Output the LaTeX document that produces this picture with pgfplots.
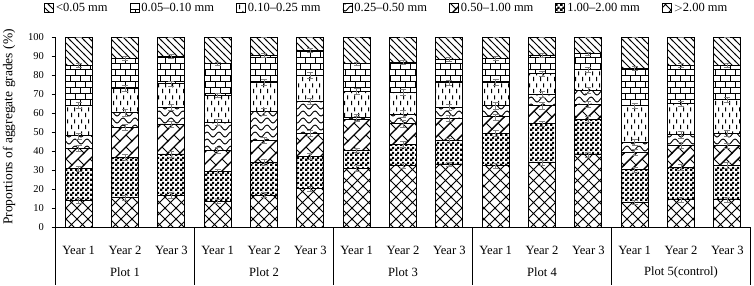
\documentclass[border=0pt]{standalone}
\usepackage{fontspec}
\setmainfont{Liberation Serif}
\usepackage{pgfplots}
\pgfplotsset{compat=1.18}
\usetikzlibrary{patterns,patterns.meta}

\tikzdeclarepattern{name=pNW, tile size={(7pt,7pt)}, bottom left={(-1pt,-1pt)}, top right={(8pt,8pt)},
  code={\draw[line width=0.9pt] (-1pt,8pt) -- (8pt,-1pt);}}
\tikzdeclarepattern{name=pBricks, tile size={(10pt,12pt)}, bottom left={(-1pt,-1pt)}, top right={(11pt,13pt)},
  code={\draw[line width=1pt] (-1pt,0pt) -- (11pt,0pt) (-1pt,6pt) -- (11pt,6pt) (0pt,0pt) -- (0pt,6pt) (5pt,6pt) -- (5pt,12pt);}}
\tikzdeclarepattern{name=pDash, tile size={(7pt,12pt)}, bottom left={(0pt,0pt)}, top right={(7pt,12pt)},
  code={\draw[line width=1.1pt] (1.75pt,1pt) -- (1.75pt,5.5pt) (5.25pt,7pt) -- (5.25pt,11.5pt);}}
\tikzdeclarepattern{name=pWave, tile size={(12pt,7pt)}, bottom left={(-1pt,-1pt)}, top right={(13pt,8pt)},
  code={\draw[line width=0.9pt] (0pt,3.5pt) sin (3pt,6pt) cos (6pt,3.5pt) sin (9pt,1pt) cos (12pt,3.5pt);}}
\tikzdeclarepattern{name=pDiagBricks, tile size={(12pt,12pt)}, bottom left={(-1pt,-1pt)}, top right={(13pt,13pt)},
  code={\draw[line width=1.4pt] (-1pt,-1pt) -- (13pt,13pt); \draw[line width=0.8pt] (6pt,6pt) -- (12pt,0pt);}}
\tikzdeclarepattern{name=pChecker, tile size={(5pt,5pt)}, bottom left={(0pt,0pt)}, top right={(5pt,5pt)},
  code={\fill (0pt,0pt) rectangle (2.9pt,2.9pt) (2.5pt,2.5pt) rectangle (5pt,5pt);}}
\tikzdeclarepattern{name=pCross, tile size={(11pt,11pt)}, bottom left={(-1pt,-1pt)}, top right={(12pt,12pt)},
  code={\draw[line width=0.8pt] (-1pt,-1pt) -- (12pt,12pt) (-1pt,12pt) -- (12pt,-1pt);}}

\begin{document}
\begin{tikzpicture}
\path[use as bounding box] (0,0) rectangle (754pt,285pt);
\begin{axis}[
  at={(55.5pt,57.5pt)}, anchor=south west,
  scale only axis, width=695pt, height=190pt,
  xmin=-0.5, xmax=14.5, ymin=0, ymax=100,
  ybar stacked, bar width=27pt,
  clip=false,
  axis x line*=bottom, axis y line*=left,
  axis line style={line width=0.8pt},
  ytick={0,10,...,100}, xtick={0,...,14},
  xticklabels={Year 1,Year 2,Year 3,Year 1,Year 2,Year 3,Year 1,Year 2,Year 3,Year 1,Year 2,Year 3,Year 1,Year 2,Year 3},
  tick align=outside, major tick length=4pt,
  x tick style={draw=none},
  y tick style={black, line width=0.8pt},
  yticklabel style={font=\fontsize{10.5}{12}\selectfont, xshift=-4pt},
  xticklabel style={font=\fontsize{12.6}{14}\selectfont, anchor=center, yshift=-19pt},
  /pgf/number format/assume math mode=true,
  legend columns=7, reverse legend,
  legend style={at={(-0.018,1.197)}, anchor=north west, draw=none, inner sep=1pt,
    font=\fontsize{12.5}{14}\selectfont,
    /tikz/every even column/.append style={column sep=20pt}},
  legend image code/.code={\draw[#1] (0pt,-4.5pt) rectangle (9pt,4.5pt);},
  every axis plot/.append style={draw=black, line width=0.9pt},
  error bars/y dir=both, error bars/y explicit,
  error bars/error bar style={gray, line width=0.5pt},
  error bars/error mark options={rotate=90, mark size=3pt, gray, line width=0.5pt},
]
% >2.00 mm
\addplot[draw=black, pattern=pCross] coordinates {
(0,14.1)+-(0,1.2) (1,15.7)+-(0,1.5) (2,17.0)+-(0,1.4) (3,13.8)+-(0,1.0) (4,17.0)+-(0,1.3)
(5,20.3)+-(0,1.2) (6,31.3)+-(0,1.5) (7,32.5)+-(0,1.4) (8,33.4)+-(0,1.2) (9,32.7)+-(0,1.3)
(10,34.0)+-(0,1.4) (11,38.3)+-(0,1.5) (12,13.2)+-(0,1.2) (13,14.6)+-(0,1.4) (14,14.6)+-(0,1.3)};
% 1.00-2.00 mm
\addplot[draw=black, pattern=pChecker] coordinates {
(0,16.9)+-(0,1.5) (1,21.4)+-(0,1.6) (2,21.7)+-(0,1.5) (3,15.8)+-(0,1.3) (4,17.3)+-(0,1.4)
(5,17.2)+-(0,1.5) (6,9.3)+-(0,1.2) (7,11.1)+-(0,1.6) (8,12.3)+-(0,1.4) (9,17.0)+-(0,1.5)
(10,20.6)+-(0,1.3) (11,18.8)+-(0,1.5) (12,17.2)+-(0,1.4) (13,17.1)+-(0,1.5) (14,18.1)+-(0,1.6)};
% 0.50-1.00 mm
\addplot[draw=black, pattern=pDiagBricks] coordinates {
(0,10.7)+-(0,1.6) (1,15.6)+-(0,1.7) (2,15.8)+-(0,1.5) (3,11.0)+-(0,1.4) (4,11.6)+-(0,1.6)
(5,12.2)+-(0,1.5) (6,16.5)+-(0,1.4) (7,11.0)+-(0,1.8) (8,11.9)+-(0,1.5) (9,8.5)+-(0,1.6)
(10,9.5)+-(0,1.7) (11,7.9)+-(0,1.5) (12,9.2)+-(0,1.5) (13,11.4)+-(0,1.6) (14,10.4)+-(0,1.5)};
% 0.25-0.50 mm
\addplot[draw=black, pattern=pWave] coordinates {
(0,6.5)+-(0,1.5) (1,7.9)+-(0,1.8) (2,8.9)+-(0,1.6) (3,14.8)+-(0,1.5) (4,15.1)+-(0,1.7)
(5,16.7)+-(0,1.6) (6,0.9)+-(0,1.5) (7,5.1)+-(0,1.9) (8,5.8)+-(0,1.6) (9,5.9)+-(0,1.7)
(10,5.8)+-(0,1.6) (11,7.2)+-(0,1.5) (12,5.2)+-(0,1.6) (13,5.8)+-(0,1.8) (14,6.6)+-(0,1.7)};
% 0.10-0.25 mm
\addplot[draw=black, pattern=pDash] coordinates {
(0,16.1)+-(0,1.4) (1,12.5)+-(0,1.6) (2,12.3)+-(0,1.5) (3,14.2)+-(0,1.3) (4,15.4)+-(0,1.5)
(5,13.5)+-(0,1.6) (6,13.7)+-(0,1.4) (7,11.4)+-(0,1.5) (8,12.7)+-(0,1.4) (9,12.5)+-(0,1.5)
(10,11.1)+-(0,1.4) (11,10.9)+-(0,1.3) (12,19.3)+-(0,1.2) (13,16.3)+-(0,1.4) (14,17.6)+-(0,1.5)};
% 0.05-0.10 mm
\addplot[draw=black, pattern=pBricks] coordinates {
(0,21.1)+-(0,1.0) (1,16.1)+-(0,1.1) (2,14.4)+-(0,1.0) (3,16.6)+-(0,0.9) (4,14.2)+-(0,1.0)
(5,13.3)+-(0,1.1) (6,14.5)+-(0,0.9) (7,15.8)+-(0,1.0) (8,12.6)+-(0,1.1) (9,12.4)+-(0,1.0)
(10,9.8)+-(0,1.0) (11,8.4)+-(0,0.9) (12,19.8)+-(0,1.0) (13,20.2)+-(0,1.1) (14,17.9)+-(0,1.0)};
% <0.05 mm
\addplot[draw=black, pattern=pNW] coordinates {
(0,14.6)+-(0,0) (1,10.8)+-(0,0) (2,9.9)+-(0,0) (3,13.8)+-(0,0) (4,9.4)+-(0,0)
(5,6.8)+-(0,0) (6,13.8)+-(0,0) (7,13.1)+-(0,0) (8,11.3)+-(0,0) (9,11.0)+-(0,0)
(10,9.2)+-(0,0) (11,8.5)+-(0,0) (12,16.1)+-(0,0) (13,14.6)+-(0,0) (14,14.8)+-(0,0)};
\legend{${>}$2.00 mm,1.00--2.00 mm,0.50--1.00 mm,0.25--0.50 mm,0.10--0.25 mm,0.05--0.10 mm,<0.05 mm}
\draw[line width=0.8pt] (axis cs:-0.5,0) -- ++(0pt,-57pt);
\draw[line width=0.8pt] (axis cs:2.5,0) -- ++(0pt,-57pt);
\draw[line width=0.8pt] (axis cs:5.5,0) -- ++(0pt,-57pt);
\draw[line width=0.8pt] (axis cs:8.5,0) -- ++(0pt,-57pt);
\draw[line width=0.8pt] (axis cs:11.5,0) -- ++(0pt,-57pt);
\draw[line width=0.8pt] (axis cs:14.5,0) -- ++(0pt,-57pt);
\node[font=\fontsize{12.6}{14}\selectfont] at ([yshift=-44.5pt]axis cs:1,0) {Plot 1};
\node[font=\fontsize{12.6}{14}\selectfont] at ([yshift=-44.5pt]axis cs:4,0) {Plot 2};
\node[font=\fontsize{12.6}{14}\selectfont] at ([yshift=-44.5pt]axis cs:7,0) {Plot 3};
\node[font=\fontsize{12.6}{14}\selectfont] at ([yshift=-44.5pt]axis cs:10,0) {Plot 4};
\node[font=\fontsize{12.6}{14}\selectfont] at ([yshift=-44.5pt]axis cs:13,0) {Plot 5(control)};
\end{axis}
\node[rotate=90, font=\fontsize{13.5}{15}\selectfont] at (9pt,158pt) {Proportions of aggregate grades (\%)};
\end{tikzpicture}
\end{document}
